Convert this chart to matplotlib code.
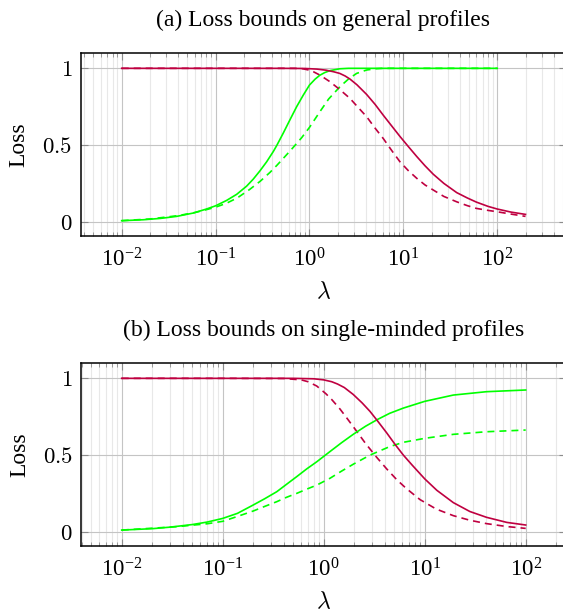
import numpy as np
import matplotlib
matplotlib.use("Agg")
import matplotlib.pyplot as plt
from matplotlib.ticker import LogLocator, FixedLocator, NullFormatter

plt.rcParams['font.family'] = ['Liberation Serif', 'DejaVu Serif']
plt.rcParams['mathtext.fontset'] = 'cm'

RED = '#bf0040'
GREEN = '#00ff00'

# (a) general profiles
a_red_x = [0.01, 0.1, 0.5, 0.9, 1.2, 1.5, 1.8, 2.1, 2.4, 2.7, 3.2, 4.06, 5.0, 6.1, 7.5, 9.2, 11.3,
           13.9, 17, 20.8, 27, 37, 48, 60, 80, 100, 140, 200]
a_red_y = [1.0, 1.0, 1.0, 0.999, 0.995, 0.988, 0.978, 0.967, 0.95, 0.93, 0.893, 0.83, 0.765, 0.695,
           0.625, 0.556, 0.49, 0.425, 0.365, 0.31, 0.25, 0.19, 0.155, 0.128, 0.1, 0.083, 0.063, 0.048]
a_red_dash_x = [0.01, 0.1, 0.7, 0.85, 1.0, 1.1, 1.3, 1.65, 2.1, 2.7, 3.3, 4.06, 5.0, 6.1, 7.5, 9.2,
                11.3, 13.9, 17, 20.8, 27, 37, 48, 60, 80, 100, 140, 200]
a_red_dash_y = [1.0, 1.0, 1.0, 0.997, 0.988, 0.978, 0.955, 0.913, 0.862, 0.804, 0.745, 0.685, 0.61,
                0.543, 0.465, 0.391, 0.333, 0.283, 0.24, 0.207, 0.165, 0.13, 0.105, 0.087, 0.074,
                0.065, 0.05, 0.035]
a_green_x = [0.01, 0.017, 0.026, 0.0385, 0.058, 0.08, 0.1, 0.131, 0.168, 0.214, 0.252, 0.297, 0.35,
             0.412, 0.448, 0.526, 0.62, 0.73, 0.86, 1.0, 1.15, 1.29, 1.45, 1.65, 2.1, 2.6, 10, 100]
a_green_y = [0.007, 0.013, 0.022, 0.035, 0.057, 0.083, 0.104, 0.139, 0.179, 0.232, 0.278, 0.332,
             0.391, 0.458, 0.497, 0.578, 0.665, 0.75, 0.826, 0.891, 0.93, 0.955, 0.972, 0.985,
             0.997, 1.0, 1.0, 1.0]
a_green_dash_x = [0.01, 0.02, 0.04, 0.06, 0.08, 0.1, 0.13, 0.17, 0.23, 0.3, 0.38, 0.45, 0.526,
                  0.65, 0.826, 1.0, 1.29, 1.6, 2.11, 2.6, 3.18, 4.06, 5.0, 6.0, 10, 100]
a_green_dash_y = [0.007, 0.018, 0.04, 0.06, 0.079, 0.095, 0.12, 0.155, 0.21, 0.265, 0.322, 0.368,
                  0.413, 0.475, 0.548, 0.615, 0.717, 0.8, 0.88, 0.93, 0.967, 0.989, 0.997, 1.0,
                  1.0, 1.0]

# (b) single-minded profiles
b_red_x = [0.01, 0.1, 0.5, 0.8, 1.0, 1.2, 1.37, 1.6, 1.96, 2.4, 2.87, 3.39, 4.2, 5.08, 6.14, 7.5,
           10, 13.2, 19.2, 28, 41, 65, 100]
b_red_y = [1.0, 1.0, 1.0, 0.997, 0.99, 0.978, 0.963, 0.94, 0.895, 0.84, 0.785, 0.725, 0.645, 0.57,
           0.5, 0.435, 0.345, 0.27, 0.19, 0.132, 0.094, 0.061, 0.044]
b_red_dash_x = [0.01, 0.1, 0.4, 0.6, 0.7, 0.853, 1.05, 1.2, 1.45, 1.7, 2.12, 2.6, 3.35, 4.2, 5.28,
                6.5, 8.97, 13, 19.2, 28, 41, 65, 100]
b_red_dash_y = [1.0, 1.0, 0.999, 0.99, 0.978, 0.95, 0.9, 0.862, 0.8, 0.74, 0.655, 0.575, 0.485,
                0.41, 0.34, 0.285, 0.21, 0.148, 0.105, 0.075, 0.053, 0.034, 0.022]
b_green_x = [0.01, 0.02, 0.03, 0.05, 0.07, 0.1, 0.14, 0.2, 0.26, 0.343, 0.43, 0.54, 0.68, 0.853,
             1.15, 1.5, 1.96, 2.6, 3.39, 4.5, 6.14, 10, 19.2, 41, 100]
b_green_y = [0.011, 0.02, 0.03, 0.047, 0.063, 0.087, 0.12, 0.174, 0.215, 0.261, 0.31, 0.359, 0.41,
             0.456, 0.522, 0.58, 0.635, 0.688, 0.731, 0.772, 0.806, 0.85, 0.891, 0.913, 0.924]
b_green_dash_x = [0.01, 0.035, 0.07, 0.1, 0.14, 0.2, 0.26, 0.343, 0.43, 0.54, 0.68, 0.853, 1.15,
                  1.5, 1.96, 2.5, 3.0, 4.5, 6.14, 10, 19.2, 41, 100]
b_green_dash_y = [0.011, 0.033, 0.052, 0.068, 0.1, 0.135, 0.165, 0.196, 0.225, 0.25, 0.278, 0.304,
                  0.348, 0.395, 0.44, 0.478, 0.505, 0.555, 0.583, 0.609, 0.635, 0.652, 0.663]

panels = [
    ('(a) Loss bounds on general profiles', (10**-2.437, 10**2.731),
     [(a_green_x, a_green_y, GREEN, '-'), (a_green_dash_x, a_green_dash_y, GREEN, '--'),
      (a_red_dash_x, a_red_dash_y, RED, '--'), (a_red_x, a_red_y, RED, '-')]),
    ('(b) Loss bounds on single-minded profiles', (10**-2.4, 10**2.4),
     [(b_green_x, b_green_y, GREEN, '-'), (b_green_dash_x, b_green_dash_y, GREEN, '--'),
      (b_red_dash_x, b_red_dash_y, RED, '--'), (b_red_x, b_red_y, RED, '-')]),
]

fig = plt.figure(figsize=(5.63, 6.14), dpi=100)
rects = [[0.1433, 0.6156, 0.8618, 0.2976], [0.1444, 0.1107, 0.8611, 0.2976]]

for rect, (title, xlim, lines) in zip(rects, panels):
    ax = fig.add_axes(rect)
    ax.set_xscale('log')
    for xs, ys, c, ls in lines:
        if ls == '--':
            ax.plot(xs, ys, color=c, lw=1.2, ls=(0, (4.2, 3)), zorder=3)
        else:
            ax.plot(xs, ys, color=c, lw=1.2, zorder=4)
    ax.set_xlim(*xlim)
    ax.set_ylim(-0.093, 1.098)
    ax.xaxis.set_major_locator(LogLocator(base=10, numticks=20))
    ax.xaxis.set_minor_locator(LogLocator(base=10, subs=np.arange(2, 10), numticks=20))
    ax.xaxis.set_minor_formatter(NullFormatter())
    ax.yaxis.set_major_locator(FixedLocator([0, 0.5, 1]))
    ax.set_yticklabels(['$0$', '$0.5$', '$1$'])
    ax.grid(True, which='major', color='#c4c4c4', lw=0.8, zorder=0)
    ax.grid(True, which='minor', axis='x', color='#e8e8e8', lw=0.8, zorder=0)
    ax.tick_params(which='major', direction='in', length=5, width=0.8, color='#8c8c8c',
                   top=True, right=True, labelsize=16.5)
    ax.tick_params(which='minor', direction='in', length=3, width=0.6, color='#8c8c8c',
                   top=True, right=True)
    ax.tick_params(axis='x', which='major', pad=9)
    ax.tick_params(axis='y', which='major', pad=6)
    for s in ax.spines.values():
        s.set_linewidth(1.1)
    ax.set_xlabel(r'$\lambda$', fontsize=17, labelpad=7)
    ax.set_ylabel('Loss', fontsize=17, labelpad=9)
    ax.set_title(title, fontsize=17, pad=20)

fig.savefig('out.png', dpi=100)
